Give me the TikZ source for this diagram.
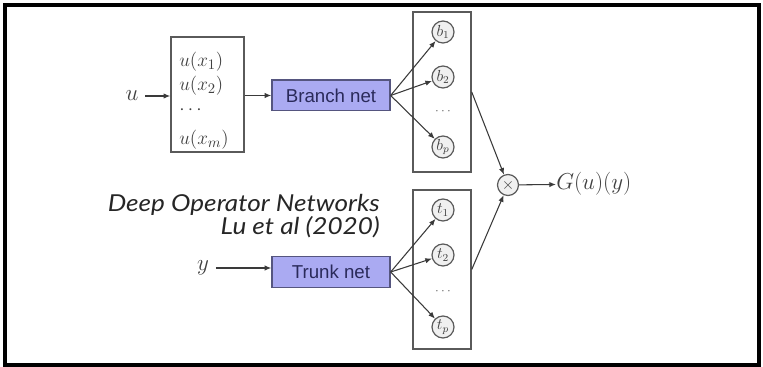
\documentclass[tikz,border=0pt]{standalone}
\usepackage{fontspec}
\setmainfont{Liberation Sans}
\newfontfamily\capfont[FakeStretch=1.12]{Lato}
\usetikzlibrary{arrows.meta}
\definecolor{netfill}{HTML}{AAAAF2}
\definecolor{netdraw}{HTML}{55557F}
\definecolor{nettext}{HTML}{2A2A5A}
\definecolor{ln}{HTML}{3A3A3A}
\definecolor{boxd}{HTML}{5A5A5A}
\tikzset{
  conn/.style={draw=ln, line width=0.8pt, -{Latex[length=5pt,width=4pt]}},
  netbox/.style={draw=netdraw, fill=netfill, line width=1pt, minimum width=88.5pt, minimum height=23pt, inner sep=0pt, text=nettext, font=\fontsize{14}{16}\selectfont},
  colbox/.style={draw=boxd, line width=1.1pt, minimum width=43.5pt, inner sep=0pt},
  unit/.style={circle, draw=boxd, fill=gray!12, line width=0.9pt, minimum size=16.5pt, inner sep=0pt, text=black!75, font=\fontsize{11.5}{13}\selectfont},
  lbl/.style={inner sep=0pt, text=black!75, font=\fontsize{16}{19}\selectfont},
  captext/.style={inner sep=0pt, text=black!85, align=right, font=\capfont\itshape\fontsize{17.5}{15.75}\selectfont},
  sdots/.style={inner sep=0pt, text=black!60, font=\fontsize{10}{11}\selectfont}
}
\begin{document}
\begin{tikzpicture}[x=0.75pt, y=-0.75pt]
\useasboundingbox (0,0) rectangle (763,367);
\draw[line width=2.3pt, black] (5,5) rectangle (759,365);

% input box
\node[draw=boxd, line width=1.1pt, minimum width=54.75pt, minimum height=86.25pt, inner sep=0pt] (inp) at (207.5,94.5) {};
\node[lbl, anchor=north west, align=left, font=\fontsize{15.5}{18}\selectfont] (xs) at (179,51.5)
  {$u(x_1)$\\$u(x_2)$\\$\cdots$\\[4.5pt]$u(x_m)$};

\node[lbl] (u) at (132,96) {$u$};
\node[lbl] (y) at (203,268) {$y$};

\node[netbox] (branch) at (331,95.5) {Branch net};
\node[netbox] (trunk) at (331,272) {Trunk net};

\node[colbox, minimum height=120pt] (ub) at (442,92) {};
\node[colbox, minimum height=119.25pt] (lb) at (442,269.5) {};

\node[unit] (b1) at (443,32) {$b_1$};
\node[unit] (b2) at (443,77) {$b_2$};
\node[sdots] (bd) at (443,112) {$\cdots$};
\node[unit] (bp) at (443,147) {$b_p$};

\node[unit] (t1) at (443,210) {$t_1$};
\node[unit] (t2) at (443,255) {$t_2$};
\node[sdots] (td) at (443,292) {$\cdots$};
\node[unit] (tp) at (443,327) {$t_p$};

\node[unit, minimum size=15.75pt] (prod) at (508,185) {$\times$};
\node[lbl, anchor=west, font=\fontsize{17}{20}\selectfont] (G) at (556,184) {$G(u)(y)$};

\node[captext, anchor=north east] (cap) at (380,194) {Deep Operator Networks\\Lu et al (2020)};

\draw[conn, shorten <=5pt] (u) -- (u -| inp.west);
\draw[conn] (inp.east |- branch) -- (branch.west);
\draw[conn, shorten <=5pt] (y) -- (y -| trunk.west);

\foreach \t in {b1,b2,bp} \draw[conn] (branch.east) -- (\t);
\foreach \t in {t1,t2,tp} \draw[conn] (trunk.east) -- (\t);

\draw[conn] (ub.east) -- (prod);
\draw[conn] (lb.east) -- (prod);
\draw[conn] (prod) -- (G);
\end{tikzpicture}
\end{document}
